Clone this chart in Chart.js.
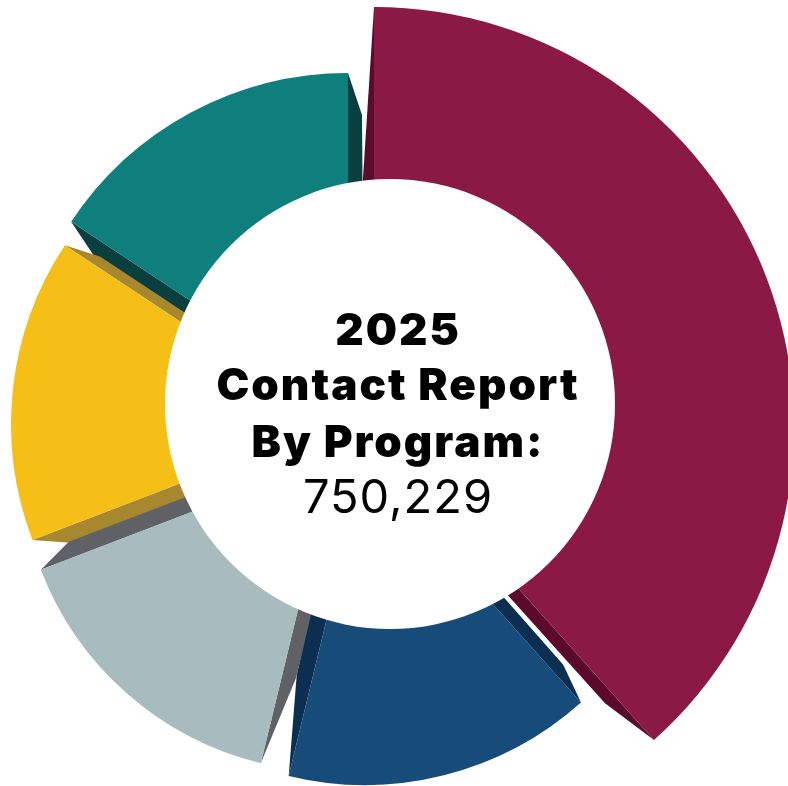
<!DOCTYPE html>
<html>
<head>
<meta charset="utf-8">
<title>2025 Contact Report By Program</title>
<script src="https://cdn.jsdelivr.net/npm/chart.js@4.4.1/dist/chart.umd.min.js"></script>
<style>
  html, body { margin: 0; padding: 0; background: #fff; }
</style>
</head>
<body>
<canvas id="programChart" width="788" height="786"></canvas>
<script>
// contacts per program, clockwise from 12 o'clock
const programs = ["Program 1", "Program 2", "Program 3", "Program 4", "Program 5"];
const contacts = [288000, 115500, 115500, 113500, 117729];

const titleLines = ["2025", "Contact Report", "By Program:"];
const totalContacts = contacts.reduce((sum, v) => sum + v, 0);

// block styling: face colour, side wall colour, face centre shift, face radius
const faceColors = ["#8b1945", "#174b79", "#a8bbbf", "#f5bf18", "#0e7f7c"];
const wallColors = ["#5c0a2c", "#0c2e50", "#5f6166", "#a8882f", "#0a3f3f"];
const faceShift = [[-16, 23], [-25, 57], [-55, 53], [-55, 20], [-42, 1]];
const faceRadius = [420, 324, 315, 324, 332];
// side walls [start edge, end edge], each as
// [spread at block centre, back corner along edge, back corner out from edge]
const wallShape = [
    [[27, 0, 0], [13, 60, 12]],
    [[14, 40, 12], [17, 100, 16]],
    [[16, 90, 14], [16, 36, 16]],
    [[15, 34, 16], [10, 36, 10]],
    [[24, 43, 18], [16, 42, 14]]
];

function drawWall(ctx, el, angle, nx, ny, shape) {
    const [spread, along, out] = shape;
    const r = el.outerRadius;
    const fx = el.x + r * Math.cos(angle);
    const fy = el.y + r * Math.sin(angle);
    const dx = -Math.cos(angle);
    const dy = -Math.sin(angle);
    ctx.beginPath();
    ctx.moveTo(fx, fy);
    ctx.lineTo(el.x, el.y);
    ctx.lineTo(el.x + spread * nx, el.y + spread * ny);
    ctx.lineTo(fx + along * dx + out * nx, fy + along * dy + out * ny);
    ctx.closePath();
    ctx.fill();
}

// turns the flat doughnut into extruded blocks: moves each arc and paints its side walls
const blockPlugin = {
    id: 'blocks',
    beforeDatasetsDraw(chart) {
        const ctx = chart.ctx;
        const area = chart.chartArea;
        const cx = (area.left + area.right) / 2;
        const cy = (area.top + area.bottom) / 2;
        const arcs = chart.getDatasetMeta(0).data;

        arcs.forEach((el, i) => {
            el.x = cx + faceShift[i][0];
            el.y = cy + faceShift[i][1];
            el.outerRadius = faceRadius[i];
            el.innerRadius = 40;
        });

        // far blocks first so the big one sits on top
        ctx.save();
        for (let i = arcs.length - 1; i >= 0; i--) {
            const el = arcs[i];
            const a0 = el.startAngle;
            const a1 = el.endAngle;
            ctx.fillStyle = wallColors[i];
            drawWall(ctx, el, a0, Math.sin(a0), -Math.cos(a0), wallShape[i][0]);
            drawWall(ctx, el, a1, -Math.sin(a1), Math.cos(a1), wallShape[i][1]);
        }
        ctx.restore();
    },
    afterDatasetsDraw(chart) {
        const ctx = chart.ctx;
        const area = chart.chartArea;
        const cx = (area.left + area.right) / 2;
        const cy = (area.top + area.bottom) / 2;
        const hole = chart.getDatasetMeta(0).controller.innerRadius;

        ctx.save();
        ctx.beginPath();
        ctx.arc(cx, cy, hole, 0, Math.PI * 2);
        ctx.fillStyle = '#ffffff';
        ctx.fill();

        ctx.fillStyle = '#000000';
        ctx.textAlign = 'center';
        ctx.textBaseline = 'alphabetic';
        const tx = cx + 8;
        ctx.font = '900 44px Inter';
        ctx.letterSpacing = '2px';
        ctx.fillText(titleLines[0], tx, cy - 59);
        ctx.fillText(titleLines[1], tx, cy - 4);
        ctx.fillText(titleLines[2], tx, cy + 53);
        ctx.font = '400 47px Inter';
        ctx.letterSpacing = '1px';
        ctx.fillText(totalContacts.toLocaleString('en-US'), tx, cy + 109);
        ctx.restore();
    }
};

const ctx = document.getElementById('programChart').getContext('2d');
const chart = new Chart(ctx, {
    type: 'doughnut',
    data: {
        labels: programs,
        datasets: [{
            data: contacts,
            backgroundColor: faceColors,
            borderWidth: 0
        }]
    },
    options: {
        responsive: false,
        animation: false,
        events: [],
        cutout: 225,
        rotation: 0,
        layout: { padding: { left: 0, right: 8, top: 22, bottom: 0 } },
        plugins: {
            legend: { display: false },
            tooltip: { enabled: false }
        }
    },
    plugins: [blockPlugin]
});
</script>
</body>
</html>
